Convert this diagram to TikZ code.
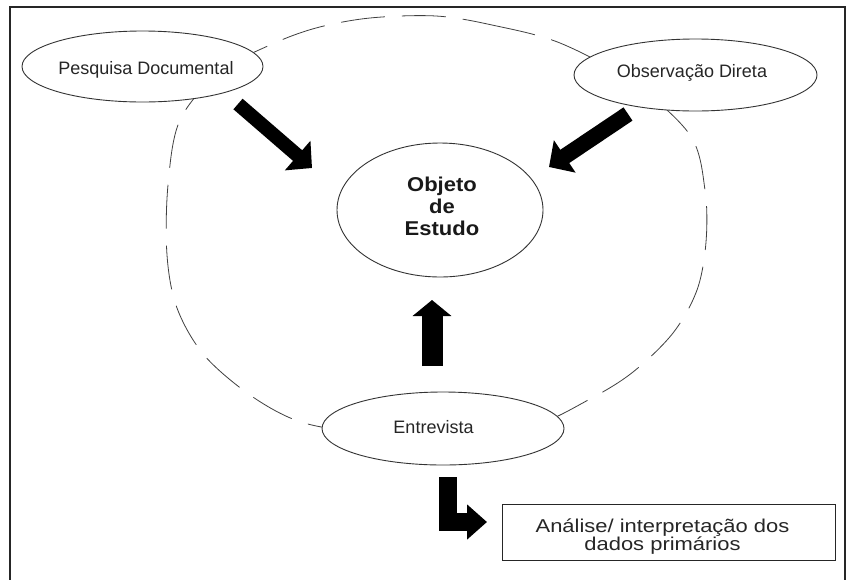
\documentclass[tikz,border=0pt]{standalone}
\usepackage{fontspec}
\setmainfont{Liberation Sans}
\newfontfamily\boxfont[FakeStretch=1.18]{Liberation Sans}
\newfontfamily\objfont[FakeStretch=1.1]{Liberation Sans}
\usetikzlibrary{shapes.geometric,arrows.meta}
\begin{document}
\begin{tikzpicture}[x=1pt,y=-1pt,
  oval/.style={ellipse, draw=black!80, line width=0.9pt, fill=white, inner sep=0pt},
  lbl/.style={font=\fontsize{18}{20}\selectfont, text=black!85, inner sep=0pt, anchor=base},
  blockarrow/.style n args={3}{line width=#1, line join=miter, draw=black, -{Triangle[length=#2, width=#3]}},
  dashring/.style={draw=black!75, line width=0.8pt, dash pattern=on 44pt off 17pt},
  framing/.style={draw=black!85, line width=1.2pt}
]
\useasboundingbox (0,0) rectangle (853,579);
\fill[white] (0,0) rectangle (853,579);
\draw[framing] (10,590) -- (10,7) -- (845,7) -- (845,590);

% dashed enclosing curve
\draw[dashring] plot[smooth cycle, tension=0.55] coordinates {
  (436,16) (492,25) (560,43) (632,82) (690,135) (705,190) (706,242)
  (697,290) (673,333) (633,372) (590,399) (530,427) (443,440) (355,432)
  (298,421) (250,395) (204,355) (177,308) (167,255) (168,185) (180,120)
  (220,72) (270,45) (316,28) (370,18)};

% nodes
\node[oval, minimum width=241pt, minimum height=71pt] (pd) at (142.5,66.5) {};
\node[lbl] (pdt) at (146,74) {Pesquisa Documental};

\node[oval, minimum width=243pt, minimum height=72pt] (od) at (695.5,75) {};
\node[lbl] (odt) at (692,77) {Observação Direta};

\node[oval, minimum width=206pt, minimum height=134pt] (obj) at (440,210) {};
\node[inner sep=0pt, align=center, text=black!90,
      font=\objfont\bfseries\fontsize{20}{22}\selectfont] (objt) at (442,206)
      {Objeto\\de\\Estudo};

\node[oval, minimum width=242pt, minimum height=73pt] (ent) at (443,428.5) {};
\node[lbl] (entt) at (433.5,433) {Entrevista};

\node[draw=black!85, line width=1pt, minimum width=333pt, minimum height=56pt, inner sep=0pt] (res) at (668.5,532) {};
\node[inner sep=0pt, align=center, text=black!85,
      font=\boxfont\fontsize{18.6}{18.4}\selectfont] (rest) at (662.5,536.3)
      {Análise/ interpretação dos\\dados primários};

% arrow end points
\coordinate (a1s) at (238,104);
\coordinate (a1e) at (312,168);
\coordinate (a2s) at (628,114);
\coordinate (a2e) at (549,167);
\coordinate (a3s) at (432,366);
\coordinate (a3e) at (432,300);
\coordinate (a4s) at (447.5,477);
\coordinate (a4e) at (487,522);

\draw[blockarrow={14pt}{19pt}{38pt}] (a1s) -- (a1e);
\draw[blockarrow={16pt}{19pt}{38pt}] (a2s) -- (a2e);
\draw[blockarrow={21pt}{16pt}{38pt}] (a3s) -- (a3e);
\draw[blockarrow={18pt}{20pt}{34pt}] (a4s) |- (a4e);
\end{tikzpicture}
\end{document}
